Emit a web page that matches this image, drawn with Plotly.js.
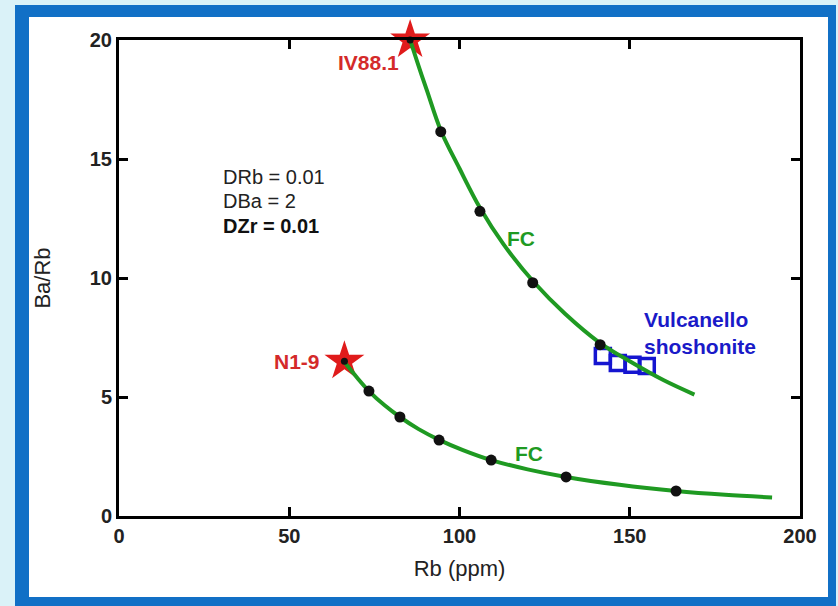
<!DOCTYPE html>
<html>
<head>
<meta charset="utf-8">
<script src="https://cdn.plot.ly/plotly-3.0.1.min.js"></script>
<style>
  html, body { margin: 0; padding: 0; background: #daf2f8; }
  #frame { position: absolute; left: 15px; top: 5px; width: 821px; height: 601px; background: #1170c6; }
  #inner { position: absolute; left: 14px; top: 12px; width: 799px; height: 580px; background: #ffffff; }
  #chart { position: absolute; left: 0; top: 0; width: 838px; height: 606px; }
</style>
</head>
<body>
<div id="frame"><div id="inner"></div></div>
<div id="chart"></div>
<script>
// Fractional crystallisation curve from IV88.1
const fc1Rb = [85.5, 88, 90.5, 94.5, 100, 106, 113, 122, 131, 141, 150, 160, 169];
const fc1Ratio = [20.0, 18.9, 17.85, 16.2, 14.6, 12.95, 11.4, 9.8, 8.5, 7.3, 6.5, 5.7, 5.1];
const fc1DotRb = [94.5, 106, 121.5, 141.3];
const fc1DotRatio = [16.15, 12.8, 9.8, 7.2];

// Fractional crystallisation curve from N1-9
const fc2Rb = [66, 70, 73.4, 78, 82.5, 88, 94, 101, 109.3, 120, 131.3, 147, 163.6, 178, 191.8];
const fc2Ratio = [6.5, 5.8, 5.25, 4.65, 4.16, 3.65, 3.2, 2.77, 2.35, 1.96, 1.64, 1.31, 1.05, 0.89, 0.78];
const fc2DotRb = [73.4, 82.5, 94.0, 109.3, 131.3, 163.6];
const fc2DotRatio = [5.25, 4.16, 3.19, 2.35, 1.64, 1.05];

// Starting compositions
const startNames = ["IV88.1", "N1-9"];
const startRb = [85.5, 66.2];
const startRatio = [20.0, 6.5];

// Vulcanello shoshonite samples
const vulcRb = [142.1, 146.5, 150.8, 155.0];
const vulcRatio = [6.72, 6.43, 6.35, 6.3];

const green = "#1f9a22";
const traces = [
  { x: startRb, y: startRatio, mode: "markers", cliponaxis: false,
    marker: { symbol: "star", size: 30, color: "#e01b1b", line: { width: 0 } } },
  { x: vulcRb, y: vulcRatio, mode: "markers", cliponaxis: false,
    marker: { symbol: "square-open", size: 15, color: "#1515d0", line: { width: 3.5, color: "#1515d0" } } },
  { x: fc1Rb, y: fc1Ratio, mode: "lines", line: { color: green, width: 4, shape: "spline" }, cliponaxis: false },
  { x: fc2Rb, y: fc2Ratio, mode: "lines", line: { color: green, width: 4, shape: "spline" }, cliponaxis: false },
  { x: fc1DotRb.concat(fc2DotRb), y: fc1DotRatio.concat(fc2DotRatio), mode: "markers",
    marker: { size: 11, color: "#111111" } },
  { x: startRb, y: startRatio, mode: "markers", cliponaxis: false,
    marker: { size: 7, color: "#111111" } }
];

const FAM = "Arial, Liberation Sans, sans-serif";
const tickFont = { family: FAM, size: 20, color: "#222222", weight: "bold" };
const annFont = (c, s, w) => ({ family: FAM, size: s, color: c, weight: w });

const layout = {
  width: 838, height: 606,
  margin: { l: 119, r: 38, t: 40, b: 90 },
  paper_bgcolor: "rgba(0,0,0,0)",
  plot_bgcolor: "#ffffff",
  showlegend: false,
  xaxis: {
    range: [0, 200], dtick: 50, tick0: 0, showgrid: false, zeroline: false,
    showline: true, linewidth: 3, linecolor: "#000", mirror: "ticks",
    ticks: "inside", ticklen: 9, tickwidth: 3, tickcolor: "#000",
    tickfont: tickFont,
    title: { text: "Rb (ppm)", font: { family: FAM, size: 22, color: "#222" }, standoff: 15 }
  },
  yaxis: {
    range: [0, 20], dtick: 5, tick0: 0, showgrid: false, zeroline: false,
    showline: true, linewidth: 3, linecolor: "#000", mirror: "ticks",
    ticks: "inside", ticklen: 9, tickwidth: 3, tickcolor: "#000",
    tickfont: tickFont,
    title: { text: "Ba/Rb", font: { family: FAM, size: 22, color: "#222" }, standoff: 34 }
  },
  annotations: [
    { x: 85.5, y: 20, xref: "x", yref: "y", text: startNames[0], showarrow: false,
      xanchor: "right", yanchor: "middle", xshift: -9, yshift: -22, font: annFont("#d42a2a", 21, "bold") },
    { x: 66.2, y: 6.5, xref: "x", yref: "y", text: startNames[1], showarrow: false,
      xanchor: "right", yanchor: "middle", xshift: -22, font: annFont("#d42a2a", 21, "bold") },
    { x: 0.150, y: 0.713, xref: "paper", yref: "paper", text: "DRb = 0.01", showarrow: false,
      xanchor: "left", yanchor: "middle", font: annFont("#222", 20, "normal") },
    { x: 0.150, y: 0.662, xref: "paper", yref: "paper", text: "DBa = 2", showarrow: false,
      xanchor: "left", yanchor: "middle", font: annFont("#222", 20, "normal") },
    { x: 0.150, y: 0.610, xref: "paper", yref: "paper", text: "DZr = 0.01", showarrow: false,
      xanchor: "left", yanchor: "middle", font: annFont("#111", 20, "bold") },
    { x: 0.590, y: 0.584, xref: "paper", yref: "paper", text: "FC", showarrow: false,
      xanchor: "center", yanchor: "middle", font: annFont(green, 21, "bold") },
    { x: 0.602, y: 0.132, xref: "paper", yref: "paper", text: "FC", showarrow: false,
      xanchor: "center", yanchor: "middle", font: annFont(green, 21, "bold") },
    { x: 0.768, y: 0.384, xref: "paper", yref: "paper", text: "Vulcanello<br>shoshonite", showarrow: false,
      xanchor: "left", yanchor: "middle", align: "left", font: annFont("#1a1ac8", 21, "bold") }
  ]
};

Plotly.newPlot("chart", traces, layout, { displayModeBar: false, staticPlot: true });
</script>
</body>
</html>
